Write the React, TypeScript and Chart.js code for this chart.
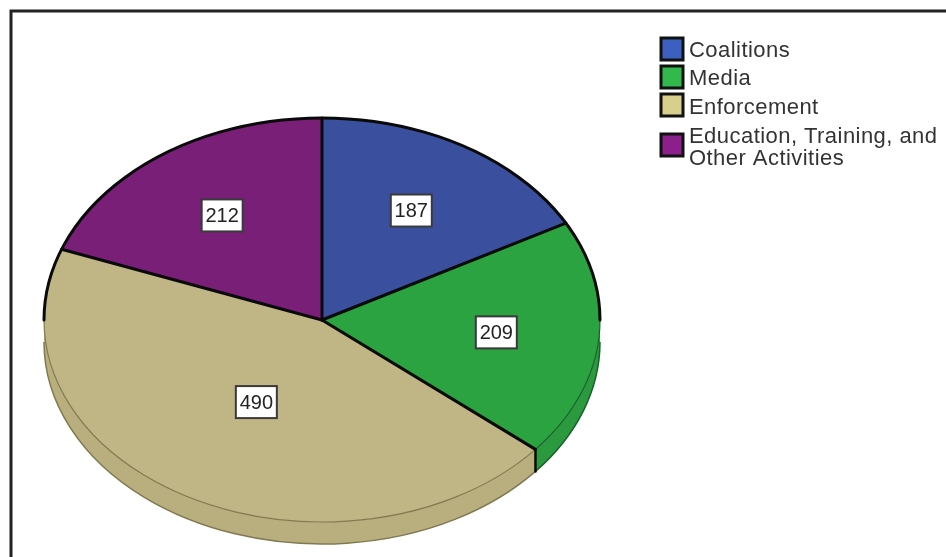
import React, { useEffect, useRef } from "react";
import { Chart, registerables } from "chart.js";

Chart.register(...registerables);

const categories = ["Coalitions", "Media", "Enforcement", "Education, Training, and Other Activities"];
const legendLines = [["Coalitions"], ["Media"], ["Enforcement"], ["Education, Training, and", "Other Activities"]];
const counts = [187, 209, 490, 212];
const faceColors = ["#3a4f9e", "#2aa340", "#bfb585", "#7a1f78"];
const rimColors = ["#33468c", "#2b9a3e", "#b9af7e", "#6c1b6a"];
const rimEdgeColors = ["#1d2850", "#17622a", "#7f7a50", "#3d0f3c"];
const swatchColors = ["#3c60c0", "#32b94e", "#d8cf8c", "#8c1f8c"];

const FONT = '"Liberation Sans", Arial, sans-serif';
const CX = 322;
const CY = 320;
const RX = 278;
const RY = 202;
const DEPTH = 22;
// How far out along its mid angle each value box sits; the big slice keeps its box closer in.
const LABEL_REACH = [0.63, 0.63, 0.47, 0.63];

// Pie is laid out as a circle by the library, then squashed into a tilted disc.
const discPlugin = {
  id: "disc",
  beforeDatasetsDraw(chart: any) {
    const { ctx } = chart;
    const arcs = chart.getDatasetMeta(0).data;
    ctx.save();
    arcs.forEach((arc: any, i: number) => {
      const a = Math.max(arc.startAngle, 0);
      const b = Math.min(arc.endAngle, Math.PI);
      if (b <= a) return;
      ctx.beginPath();
      ctx.ellipse(CX, CY + DEPTH, RX, RY, 0, a, b);
      ctx.ellipse(CX, CY, RX, RY, 0, b, a, true);
      ctx.closePath();
      ctx.fillStyle = rimColors[i];
      ctx.fill();
      ctx.beginPath();
      ctx.ellipse(CX, CY + DEPTH, RX, RY, 0, a, b);
      ctx.strokeStyle = rimEdgeColors[i];
      ctx.lineWidth = 1.5;
      ctx.stroke();
    });
    ctx.restore();
  },
  beforeDatasetDraw(chart: any) {
    const { ctx } = chart;
    const arc = chart.getDatasetMeta(0).data[0];
    ctx.save();
    ctx.translate(CX, CY);
    ctx.scale(1, RY / RX);
    ctx.translate(-arc.x, -arc.y);
  },
  afterDatasetDraw(chart: any) {
    chart.ctx.restore();
  },
  afterDatasetsDraw(chart: any) {
    const { ctx } = chart;
    const arcs = chart.getDatasetMeta(0).data;
    ctx.save();
    ctx.lineCap = "round";

    // lower front edge of the face, thin and tinted
    arcs.forEach((arc: any, i: number) => {
      const a = Math.max(arc.startAngle, 0);
      const b = Math.min(arc.endAngle, Math.PI);
      if (b <= a) return;
      ctx.beginPath();
      ctx.ellipse(CX, CY, RX, RY, 0, a, b);
      ctx.strokeStyle = rimEdgeColors[i];
      ctx.lineWidth = 1.2;
      ctx.stroke();
    });

    // upper outline and the slice separators in black
    ctx.strokeStyle = "#0a0a0a";
    ctx.lineWidth = 3;
    ctx.beginPath();
    ctx.ellipse(CX, CY, RX, RY, 0, Math.PI, Math.PI * 2);
    ctx.stroke();
    arcs.forEach((arc: any) => {
      const x = CX + RX * Math.cos(arc.startAngle);
      const y = CY + RY * Math.sin(arc.startAngle);
      ctx.beginPath();
      ctx.moveTo(CX, CY);
      ctx.lineTo(x, y);
      ctx.stroke();
    });

    // visible seam on the rim where green meets tan
    const seam = arcs[2].startAngle;
    const sx = CX + RX * Math.cos(seam);
    const sy = CY + RY * Math.sin(seam);
    ctx.lineWidth = 2.5;
    ctx.beginPath();
    ctx.moveTo(sx, sy);
    ctx.lineTo(sx, sy + DEPTH);
    ctx.stroke();

    // value boxes sit along each slice's mid angle
    ctx.font = `20px ${FONT}`;
    ctx.textAlign = "center";
    ctx.textBaseline = "middle";
    arcs.forEach((arc: any, i: number) => {
      const mid = (arc.startAngle + arc.endAngle) / 2;
      const x = CX + LABEL_REACH[i] * RX * Math.cos(mid);
      const y = CY + LABEL_REACH[i] * RY * Math.sin(mid);
      ctx.fillStyle = "#ffffff";
      ctx.fillRect(x - 20.5, y - 16, 41, 32);
      ctx.strokeStyle = "#3a3a3a";
      ctx.lineWidth = 2;
      ctx.strokeRect(x - 20.5, y - 16, 41, 32);
      ctx.fillStyle = "#222222";
      ctx.fillText(String(counts[i]), x, y + 1);
    });
    ctx.restore();
  },
};

// Key in the upper right, with the long entry broken over two lines.
const keyPlugin = {
  id: "key",
  afterDraw(chart: any) {
    const { ctx } = chart;
    const swatchTops = [38, 66, 94, 134];
    const lineCentres = [[51], [79], [108], [137, 159]];
    ctx.save();
    ctx.font = `22px ${FONT}`;
    ctx.letterSpacing = "0.45px";
    ctx.textAlign = "left";
    ctx.textBaseline = "middle";
    legendLines.forEach((lines, i) => {
      ctx.fillStyle = swatchColors[i];
      ctx.fillRect(661, swatchTops[i], 22, 22);
      ctx.strokeStyle = "#111111";
      ctx.lineWidth = 3;
      ctx.strokeRect(661, swatchTops[i], 22, 22);
      ctx.fillStyle = "#333333";
      lines.forEach((line, j) => ctx.fillText(line, 689, lineCentres[i][j]));
    });

    // frame runs off the right and bottom of the page
    ctx.strokeStyle = "#222222";
    ctx.lineWidth = 3;
    ctx.beginPath();
    ctx.moveTo(11, 557);
    ctx.lineTo(11, 11);
    ctx.lineTo(946, 11);
    ctx.stroke();
    ctx.restore();
  },
};

export default function App() {
  const ref = useRef<HTMLCanvasElement>(null);
  useEffect(() => {
    if (!ref.current) return;
    const chart = new Chart(ref.current, {
      type: "pie",
      data: {
        labels: categories,
        datasets: [
          {
            data: counts,
            backgroundColor: faceColors,
            borderWidth: 0,
            clip: false,
          } as any,
        ],
      },
      options: {
        animation: false,
        responsive: false,
        radius: RX,
        events: [],
        plugins: { legend: { display: false }, tooltip: { enabled: false } },
      } as any,
      plugins: [
        {
          id: "paper",
          beforeDraw(c: any) {
            c.ctx.fillStyle = "#ffffff";
            c.ctx.fillRect(0, 0, c.width, c.height);
          },
        },
        discPlugin,
        keyPlugin,
      ],
    });
    return () => chart.destroy();
  }, []);
  return (
    <canvas
      ref={ref}
      width={946}
      height={557}
      style={{ position: "absolute", left: 0, top: 0, width: 946, height: 557, display: "block" }}
    />
  );
}
